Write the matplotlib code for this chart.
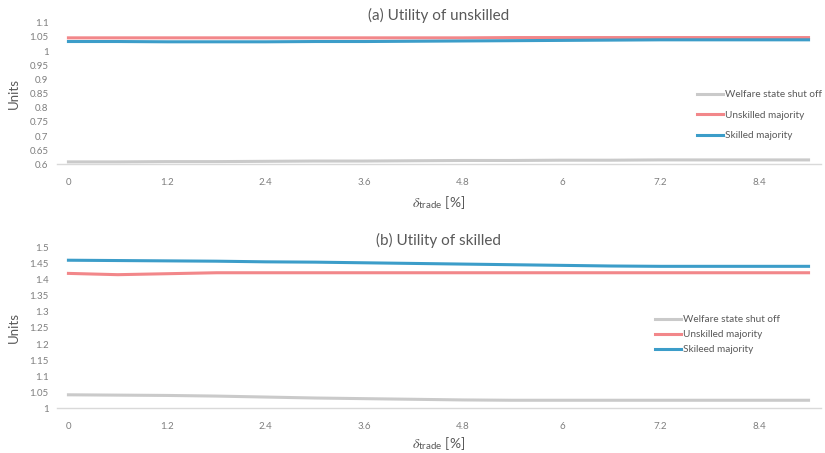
import matplotlib
matplotlib.use("Agg")
import matplotlib.pyplot as plt

plt.rcParams['font.family'] = ['Lato', 'DejaVu Sans']
plt.rcParams['mathtext.fontset'] = 'custom'
plt.rcParams['mathtext.it'] = 'STIXGeneral:italic'
plt.rcParams['mathtext.rm'] = 'Lato'
plt.rcParams['mathtext.sf'] = 'Lato'

x = [0, 0.6, 1.2, 1.8, 2.4, 3.0, 3.6, 4.2, 4.8, 5.4, 6.0, 6.6, 7.2, 7.8, 8.4, 9.0]
xticks = [0, 1.2, 2.4, 3.6, 4.8, 6, 7.2, 8.4]
xticklabels = ['0', '1.2', '2.4', '3.6', '4.8', '6', '7.2', '8.4']

# (a) Utility of unskilled
a_welfare = [0.609, 0.609, 0.610, 0.610, 0.611, 0.612, 0.612, 0.613, 0.614, 0.614, 0.615, 0.615, 0.616, 0.616, 0.616, 0.616]
a_unskilled = [1.047, 1.047, 1.047, 1.047, 1.047, 1.047, 1.047, 1.047, 1.047, 1.048, 1.048, 1.048, 1.048, 1.048, 1.048, 1.048]
a_skilled = [1.034, 1.034, 1.033, 1.033, 1.033, 1.034, 1.034, 1.035, 1.036, 1.037, 1.038, 1.039, 1.040, 1.040, 1.040, 1.040]
a_yticks = [0.6, 0.65, 0.7, 0.75, 0.8, 0.85, 0.9, 0.95, 1.0, 1.05, 1.1]
a_yticklabels = ['0.6', '0.65', '0.7', '0.75', '0.8', '0.85', '0.9', '0.95', '1', '1.05', '1.1']

# (b) Utility of skilled
b_welfare = [1.042, 1.041, 1.040, 1.038, 1.035, 1.032, 1.030, 1.028, 1.026, 1.025, 1.025, 1.025, 1.025, 1.025, 1.025, 1.025]
b_unskilled = [1.420, 1.416, 1.419, 1.422, 1.422, 1.422, 1.422, 1.422, 1.422, 1.422, 1.422, 1.422, 1.422, 1.422, 1.422, 1.422]
b_skilled = [1.461, 1.460, 1.459, 1.458, 1.456, 1.455, 1.453, 1.451, 1.449, 1.447, 1.445, 1.443, 1.442, 1.442, 1.442, 1.442]
b_yticks = [1.0, 1.05, 1.1, 1.15, 1.2, 1.25, 1.3, 1.35, 1.4, 1.45, 1.5]
b_yticklabels = ['1', '1.05', '1.1', '1.15', '1.2', '1.25', '1.3', '1.35', '1.4', '1.45', '1.5']

C_GREY = '#CACACA'
C_RED = '#F2878A'
C_BLUE = '#3C9DC9'
TXT = '#595959'
TICK = '#7F7F7F'

fig = plt.figure(figsize=(8.25, 4.53), dpi=100)
ax1 = fig.add_axes([0.069, 0.637, 0.926, 0.3126])
ax2 = fig.add_axes([0.069, 0.0987, 0.926, 0.3545])

def style(ax, ylim, yt, ytl, title, labels, leg_anchor, labelspacing, xpad):
    ax.set_xlim(-0.14, 9.15)
    ax.set_ylim(*ylim)
    ax.set_xticks(xticks)
    ax.set_xticklabels(xticklabels)
    ax.set_yticks(yt)
    ax.set_yticklabels(ytl)
    for s in ['top', 'right', 'left']:
        ax.spines[s].set_visible(False)
    ax.spines['bottom'].set_color('#D9D9D9')
    ax.spines['bottom'].set_linewidth(1.0)
    ax.tick_params(axis='both', length=0, labelsize=7, colors=TICK)
    ax.tick_params(axis='x', pad=10)
    ax.tick_params(axis='y', pad=6)
    ax.set_title(title, fontsize=11, color=TXT, pad=2)
    ax.set_ylabel('Units', fontsize=9.5, color=TXT, labelpad=7)
    ax.set_xlabel(r'$\delta_{\mathrm{trade}}$ [%]', fontsize=10, color=TXT, labelpad=xpad)
    leg = ax.legend(labels=labels, loc='upper left', bbox_to_anchor=leg_anchor,
                    bbox_transform=fig.transFigure, frameon=False, fontsize=7.2,
                    handlelength=2.6, handletextpad=0.15, labelspacing=labelspacing,
                    borderpad=0, borderaxespad=0)
    for t in leg.get_texts():
        t.set_color(TXT)

lw = 2.2
ax1.plot(x, a_welfare, color=C_GREY, lw=lw)
ax1.plot(x, a_unskilled, color=C_RED, lw=lw)
ax1.plot(x, a_skilled, color=C_BLUE, lw=lw)
style(ax1, (0.6, 1.1), a_yticks, a_yticklabels, '(a) Utility of unskilled',
      ['Welfare state shut off', 'Unskilled majority', 'Skilled majority'], (0.845, 0.801), 1.15, 5)

ax2.plot(x, b_welfare, color=C_GREY, lw=lw)
ax2.plot(x, b_unskilled, color=C_RED, lw=lw)
ax2.plot(x, b_skilled, color=C_BLUE, lw=lw)
style(ax2, (1.0, 1.5), b_yticks, b_yticklabels, '(b) Utility of skilled',
      ['Welfare state shut off', 'Unskilled majority', 'Skileed majority'], (0.794, 0.304), 0.6, 3)

fig.savefig('out.png', dpi=100)
